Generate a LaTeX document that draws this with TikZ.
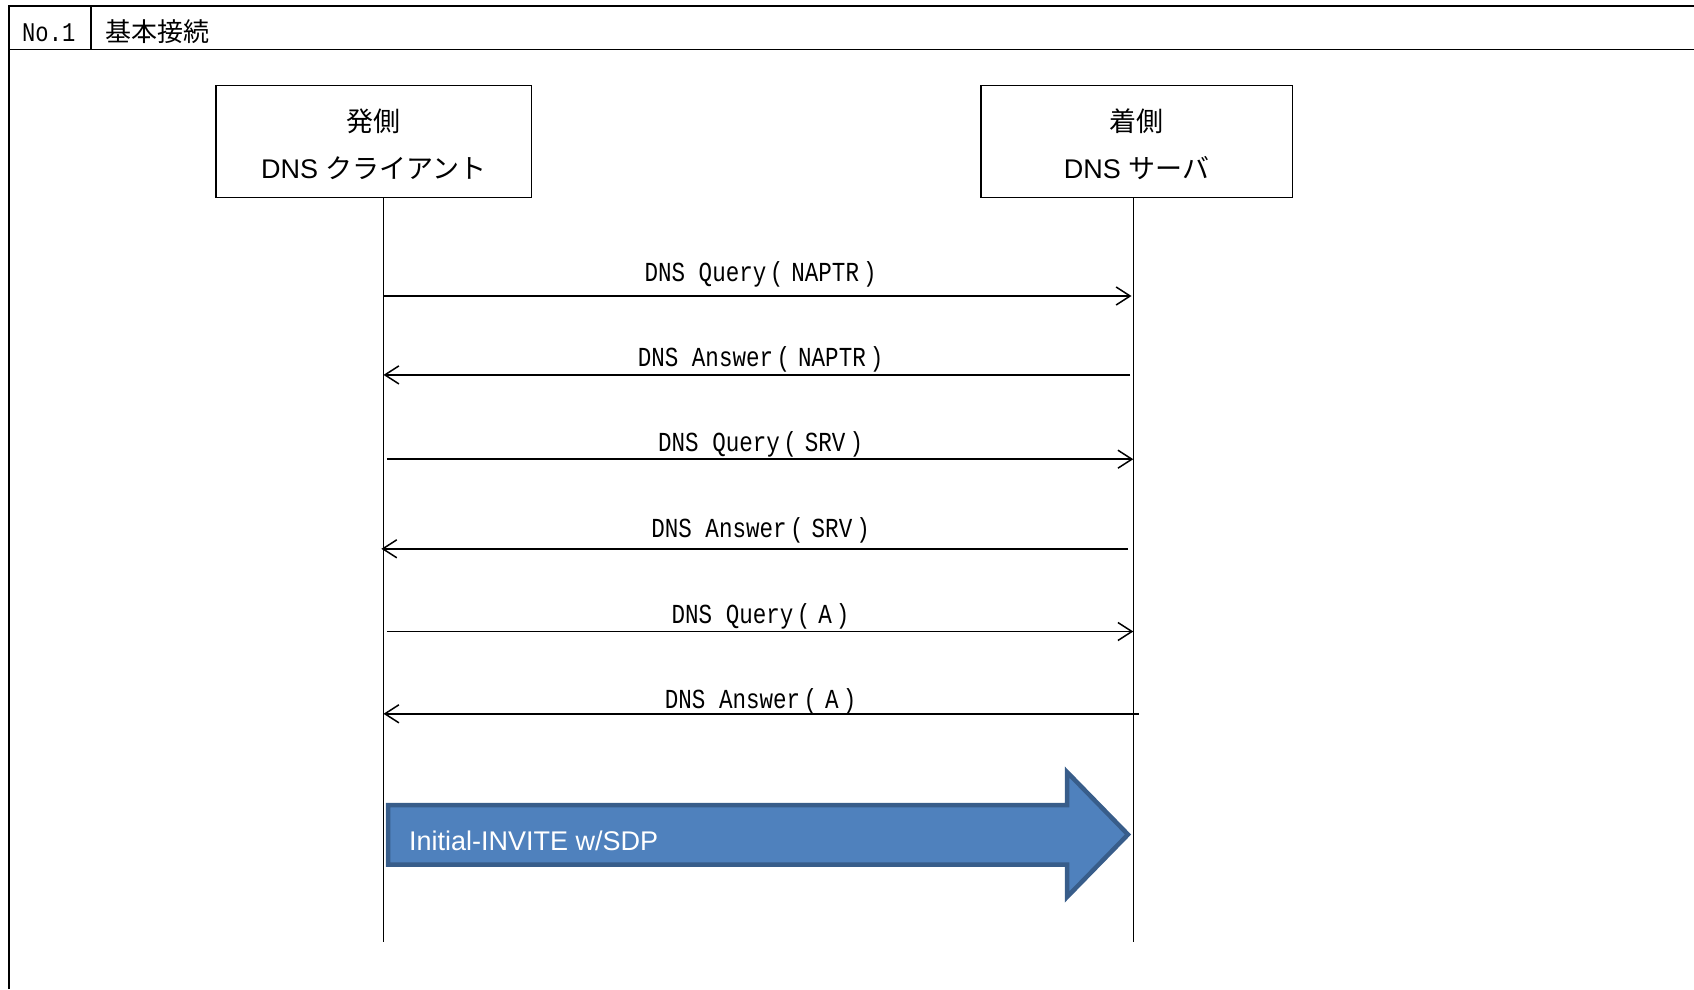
\documentclass[tikz,border=0pt]{standalone}
\usepackage{fontspec}
\setmainfont{Liberation Sans}
\newfontfamily\jp{Noto Sans CJK JP}
\newfontfamily\lblmono[FakeStretch=0.82]{Liberation Mono}
\usetikzlibrary{arrows.meta}
\definecolor{bigfill}{HTML}{4F81BD}
\definecolor{bigdraw}{HTML}{385D8A}
\newcommand\mylbl[2]{#1\hspace{3.5bp}(\hspace{8bp}#2\hspace{4bp})}
\tikzset{
  frame/.style={line width=1.8bp, black},
  actor/.style={draw, line width=1.4bp, minimum width=#1, minimum height=112.3bp, inner sep=0pt},
  actortext/.style={inner sep=0pt, align=center, font=\fontsize{27bp}{47.6bp}\selectfont},
  lifeline/.style={line width=1.4bp},
  msg/.style={line width=1.9bp, -{Straight Barb[length=14bp,width=18bp,line width=1.5bp]}},
  lbl/.style={anchor=base, inner sep=0pt, font=\lblmono\fontsize{27.5bp}{30bp}\selectfont},
  bigarrow/.style={fill=bigfill, draw=bigdraw, line width=4.5bp, line join=miter},
}
\begin{document}
\begin{tikzpicture}[x=1bp,y=-1bp]
\useasboundingbox (0,0) rectangle (1694,989);
% frame
\draw[frame] (9,989) -- (9,5.8) -- (1694,5.8);
\draw[frame] (9,49.5) -- (1694,49.5);
\draw[frame] (90.7,5.8) -- (90.7,49.5);
\node[anchor=base west, inner sep=0pt, font=\lblmono\fontsize{27bp}{30bp}\selectfont] (no) at (22,41.7) {No.1};
\node[anchor=west, inner sep=0pt, font=\jp\fontsize{26bp}{28bp}\selectfont] (title) at (105.5,32) {基本接続};
% actors
\node[actor=315.5bp] (client) at (373.8,141.5) {};
\node[actor=311.2bp] (server) at (1136.6,141.5) {};
\node[actortext] (clienttext) at (373.8,144.2) {{\jp 発側}\\DNS {\jp クライアント}};
\node[actortext] (servertext) at (1136.6,144.2) {{\jp 着側}\\DNS {\jp サーバ}};
% lifelines
\coordinate (lt) at (383.5,197.7);
\coordinate (lb) at (383.5,942);
\coordinate (rt) at (1133.3,197.7);
\coordinate (rb) at (1133.3,942);
\draw[lifeline] (lt) -- (lb);
\draw[lifeline] (rt) -- (rb);
% messages
\coordinate (m1a) at (383.5,296);   \coordinate (m1b) at (1131.5,296);
\coordinate (m2a) at (1130,374.9);  \coordinate (m2b) at (383.5,374.9);
\coordinate (m3a) at (386.8,459.2); \coordinate (m3b) at (1133.3,459.2);
\coordinate (m4a) at (1128,548.8);  \coordinate (m4b) at (381.4,548.8);
\coordinate (m5a) at (386.8,631.5); \coordinate (m5b) at (1133.3,631.5);
\coordinate (m6a) at (1138.7,713.8);\coordinate (m6b) at (383.5,713.8);
\draw[msg] (m1a) -- (m1b);
\draw[msg] (m2a) -- (m2b);
\draw[msg] (m3a) -- (m3b);
\draw[msg] (m4a) -- (m4b);
\draw[msg] (m5a) -- (m5b);
\draw[msg] (m6a) -- (m6b);
\node[lbl] (l1) at (760.6,281.7) {\mylbl{DNS Query}{NAPTR}};
\node[lbl] (l2) at (760.6,366.4) {\mylbl{DNS Answer}{NAPTR}};
\node[lbl] (l3) at (760.6,451.8) {\mylbl{DNS Query}{SRV}};
\node[lbl] (l4) at (760.6,537.1) {\mylbl{DNS Answer}{SRV}};
\node[lbl] (l5) at (760.6,623.3) {\mylbl{DNS Query}{A}};
\node[lbl] (l6) at (760.6,708.3) {\mylbl{DNS Answer}{A}};
% big arrow
\draw[bigarrow] (388,805) -- (1067,805) -- (1067,772) -- (1128,834.5) -- (1067,897) -- (1067,864.5) -- (388,864.5) -- cycle;
\node[anchor=base west, inner sep=0pt, text=white, font=\fontsize{27bp}{30bp}\selectfont] (invite) at (409,850) {Initial-INVITE w/SDP};
\end{tikzpicture}
\end{document}
